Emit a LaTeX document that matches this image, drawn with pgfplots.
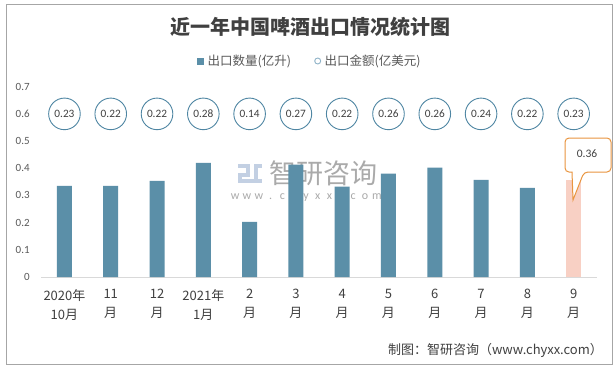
\documentclass[border=0pt]{standalone}
\usepackage{pgfplots}
\pgfplotsset{compat=1.18}
\usepackage{fontspec}
\setmainfont{Carlito}
\newfontfamily\cjk{Noto Sans CJK SC}
\definecolor{barc}{HTML}{5B8FA8}
\definecolor{pinkc}{HTML}{F8D0C4}
\definecolor{circc}{HTML}{4F86A3}
\definecolor{legcirc}{HTML}{8FB3C8}
\definecolor{orangec}{HTML}{E9953F}
\definecolor{bordc}{HTML}{A6A6A6}
\definecolor{axc}{HTML}{D9D9D9}
\definecolor{txt}{HTML}{404040}
\definecolor{tick}{HTML}{595959}
\definecolor{wm}{HTML}{AAAAAA}
\definecolor{wmlogo}{HTML}{C3D0E3}
\pgfplotstableread{
x y
0 0.335
1 0.335
2 0.354
3 0.420
4 0.203
5 0.413
6 0.332
7 0.380
8 0.402
9 0.357
10 0.328
}\qty
\pgfplotstableread{
x y
11 0.355
}\qtylast
\pgfplotstableread{
x y v
0 0.6 0.23
1 0.6 0.22
2 0.6 0.22
3 0.6 0.28
4 0.6 0.14
5 0.6 0.27
6 0.6 0.22
7 0.6 0.26
8 0.6 0.26
9 0.6 0.24
10 0.6 0.22
11 0.6 0.23
}\amt
\newcommand\wl[1]{\makebox[11.8bp]{#1}}
\begin{document}
\begin{tikzpicture}[x=1bp,y=1bp]
\path[fill=white, use as bounding box] (0,0) rectangle (615,369);
\draw[color=bordc, line width=1bp] (6,4.5) rectangle (612.5,364.5);
% title
\node[text=txt, inner sep=0] at (310.6,342) {\cjk\bfseries\fontsize{20bp}{20bp}\selectfont 近一年中国啤酒出口情况统计图};
% legend
\fill[barc] (197,304.5) rectangle (204,311.5);
\node[anchor=west, inner sep=0, text=tick] at (207.5,308) {\cjk\fontsize{12.5bp}{12.5bp}\selectfont 出口数量(亿升)};
\draw[legcirc, line width=0.9bp] (317.7,308) circle (3bp);
\node[anchor=west, inner sep=0, text=tick] at (324.5,308) {\cjk\fontsize{12.5bp}{12.5bp}\selectfont 出口金额(亿美元)};
% watermark
\node[anchor=center, inner sep=0, text=wm] at (323,196) {\cjk\fontsize{27bp}{27bp}\selectfont 智研咨询};
\node[anchor=center, inner sep=0, text=wm] at (306,173) {\fontsize{12bp}{12bp}\selectfont\wl{w}\wl{w}\wl{w}\wl{.}\wl{c}\wl{h}\wl{y}\wl{x}\wl{x}\wl{.}\wl{c}\wl{o}\wl{m}};
\fill[wmlogo] (238,205) rectangle (250,201);
\fill[wmlogo] (246,205) rectangle (250,194);
\fill[wmlogo] (238,196) rectangle (250,192);
\fill[wmlogo] (238,192) rectangle (242,186);
\fill[wmlogo] (238,190) rectangle (262,186);
\fill[wmlogo] (254,205) rectangle (258,190);
\fill[wmlogo] (258,205) rectangle (262,201);
\begin{axis}[
  scale only axis, width=555.5bp, height=190.3bp,
  at={(41.3bp,92bp)}, anchor=south west,
  xmin=-0.5, xmax=11.5, ymin=0, ymax=0.7,
  clip=false,
  axis x line*=bottom, axis y line*=left,
  separate axis lines,
  x axis line style={draw=axc, line width=1bp, -},
  y axis line style={draw=none},
  major tick length=0pt,
  xtick={0,...,11},
  xticklabels={{2020年\\10月},{11\\月},{12\\月},{2021年\\1月},{2\\月},{3\\月},{4\\月},{5\\月},{6\\月},{7\\月},{8\\月},{9\\月}},
  xticklabel style={font=\cjk\fontsize{13bp}{19bp}\selectfont, text=txt, align=center, anchor=north, inner sep=0pt, yshift=-12bp},
  ytick={0,0.1,...,0.7},
  yticklabel style={font=\fontsize{11bp}{11bp}\selectfont, text=tick, anchor=east, inner sep=0pt, xshift=-11.5bp},
  /pgf/number format/assume math mode=true,
  y tick label style={/pgf/number format/.cd, fixed, precision=1},
]
\addplot[ybar, bar width=15bp, bar shift=0pt, fill=barc, draw=none] table[x=x,y=y] {\qty};
\addplot[ybar, bar width=15bp, bar shift=0pt, fill=pinkc, draw=none] table[x=x,y=y] {\qtylast};
\addplot[only marks, mark=*, mark size=15.8bp, mark options={fill=white, draw=circc, line width=0.9bp},
  point meta=explicit symbolic, nodes near coords,
  every node near coord/.append style={anchor=center, inner sep=0pt, font=\fontsize{11.3bp}{11.3bp}\selectfont, text=txt}]
  table[x=x,y=y,meta=v] {\amt};
\end{axis}
% callout
\draw[orangec, fill=white, line width=1bp, rounded corners=4bp] (565,231) -- (611,231) -- (611,197) -- (584,197) [sharp corners] -- (573,169) -- (572,197) [rounded corners=4bp] -- (565,197) -- cycle;
\node[inner sep=0, text=txt] at (587,215) {\fontsize{11.5bp}{11.5bp}\selectfont 0.36};
% footer
\node[anchor=east, inner sep=0, text=txt] at (603,19) {\cjk\fontsize{13bp}{13bp}\selectfont 制图：智研咨询（www.chyxx.com）};
\end{tikzpicture}
\end{document}
